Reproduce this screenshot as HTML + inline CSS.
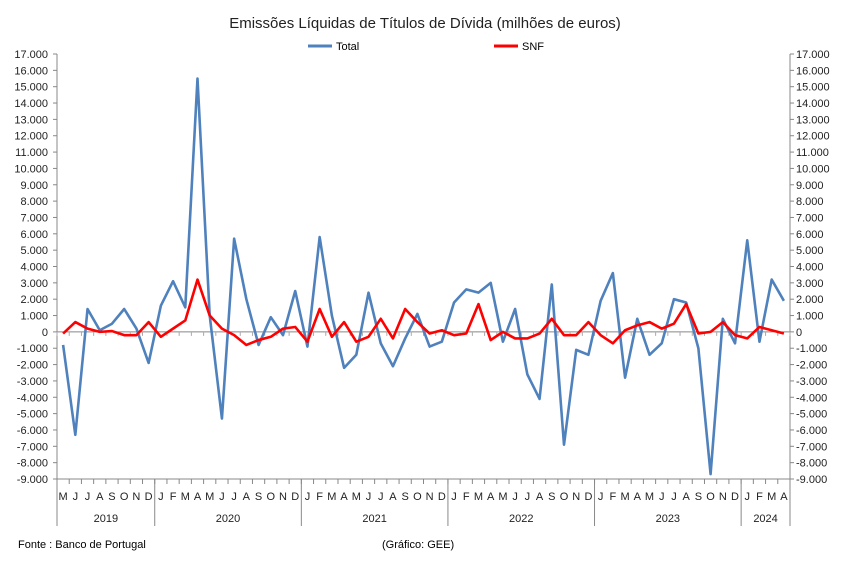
<!DOCTYPE html>
<html><head><meta charset="utf-8"><style>
body{margin:0;background:#fff;font-family:"Liberation Sans",sans-serif}
svg text{font-family:"Liberation Sans",sans-serif}
</style></head><body>
<svg id="chart" width="850" height="559" viewBox="0 0 850 559" xmlns="http://www.w3.org/2000/svg">
<text x="425" y="28" text-anchor="middle" font-size="15" fill="#222">Emissões Líquidas de Títulos de Dívida (milhões de euros)</text>
<g>
<line x1="308" y1="46" x2="332" y2="46" stroke="#4f81bd" stroke-width="3"/>
<text x="336" y="50" font-size="11">Total</text>
<line x1="494" y1="46" x2="518" y2="46" stroke="#ff0000" stroke-width="3"/>
<text x="522" y="50" font-size="11">SNF</text>
</g>
<g id="axes"></g>
<g id="series"></g>
<text x="18" y="548" font-size="11">Fonte : Banco de Portugal</text>
<text x="382" y="548" font-size="11">(Gráfico: GEE)</text>
</svg>
<script>
const months=["M","J","J","A","S","O","N","D","J","F","M","A","M","J","J","A","S","O","N","D","J","F","M","A","M","J","J","A","S","O","N","D","J","F","M","A","M","J","J","A","S","O","N","D","J","F","M","A","M","J","J","A","S","O","N","D","J","F","M","A"];
const years=["2019","2020","2021","2022","2023","2024"];
const yearCounts=[8,12,12,12,12,4];
const totalValues=[-0.8,-6.3,1.4,0.1,0.5,1.4,0.2,-1.9,1.6,3.1,1.5,15.5,1.0,-5.3,5.7,2.0,-0.8,0.9,-0.2,2.5,-0.9,5.8,1.0,-2.2,-1.4,2.4,-0.7,-2.1,-0.4,1.1,-0.9,-0.6,1.8,2.6,2.4,3.0,-0.6,1.4,-2.6,-4.1,2.9,-6.9,-1.1,-1.4,1.9,3.6,-2.8,0.8,-1.4,-0.7,2.0,1.8,-1.0,-8.7,0.8,-0.7,5.6,-0.6,3.2,1.9];
const snfValues=[-0.1,0.6,0.2,0.0,0.05,-0.2,-0.2,0.6,-0.3,0.2,0.7,3.2,1.0,0.2,-0.2,-0.8,-0.5,-0.3,0.2,0.3,-0.6,1.4,-0.3,0.6,-0.6,-0.3,0.8,-0.4,1.4,0.6,-0.1,0.1,-0.2,-0.1,1.7,-0.5,0.0,-0.4,-0.4,-0.1,0.8,-0.2,-0.2,0.6,-0.2,-0.7,0.1,0.4,0.6,0.2,0.5,1.7,-0.1,0.0,0.6,-0.2,-0.4,0.3,0.1,-0.1];
const yTicks=[17,16,15,14,13,12,11,10,9,8,7,6,5,4,3,2,1,0,-1,-2,-3,-4,-5,-6,-7,-8,-9];

const NS="http://www.w3.org/2000/svg";
const L=57,R=790,T=54,B=479,yMin=-9,yMax=17;
const n=months.length, step=(R-L)/n;
const x=i=>L+step*(i+0.5);
const y=v=>T+(yMax-v)/(yMax-yMin)*(B-T);
function mk(tag,attrs,parent){const e=document.createElementNS(NS,tag);for(const k in attrs)e.setAttribute(k,attrs[k]);parent.appendChild(e);return e;}
const ax=document.getElementById('axes');
const fmt=v=>v===0?"0":(v<0?"-":"")+Math.abs(v)+".000";
let a=mk('line',{x1:L,y1:T,x2:L,y2:B,stroke:'#888'},ax);

a=mk('line',{x1:R,y1:T,x2:R,y2:B,stroke:'#888'},ax);

yTicks.forEach(v=>{
  mk('line',{x1:L-4,y1:y(v),x2:L,y2:y(v),stroke:'#888'},ax);
  mk('line',{x1:R,y1:y(v),x2:R+4,y2:y(v),stroke:'#888'},ax);
  let t=mk('text',{x:L-9,y:y(v)+4,'text-anchor':'end','font-size':11,fill:'#222'},ax);t.textContent=fmt(v);
  
  t=mk('text',{x:R+6,y:y(v)+4,'font-size':11,fill:'#222'},ax);t.textContent=fmt(v);
  
});
a=mk('line',{x1:L,y1:y(0),x2:R,y2:y(0),stroke:'#888'},ax);

a=mk('line',{x1:L,y1:B,x2:R,y2:B,stroke:'#888'},ax);

for(let i=0;i<=n;i++){mk('line',{x1:L+step*i,y1:y(0),x2:L+step*i,y2:y(0)+4,stroke:'#aaa'},ax);mk('line',{x1:L+step*i,y1:B,x2:L+step*i,y2:B+5,stroke:'#888'},ax);}
months.forEach((m,i)=>{const t=mk('text',{x:x(i),y:500,'text-anchor':'middle','font-size':11,fill:'#222'},ax);t.textContent=m;
});
let c=0;
years.forEach((yr,k)=>{
  const s=L+step*c,e=L+step*(c+yearCounts[k]);
  mk('line',{x1:s,y1:B,x2:s,y2:526,stroke:'#888'},ax);
  const t=mk('text',{x:(s+e)/2,y:522,'text-anchor':'middle','font-size':11,fill:'#222'},ax);t.textContent=yr;
  
  c+=yearCounts[k];
});
mk('line',{x1:R,y1:B,x2:R,y2:526,stroke:'#888'},ax);
const sg=document.getElementById('series');
function line(vals,color,name){
  const p=mk('polyline',{points:vals.map((v,i)=>x(i)+','+y(v)).join(' '),fill:'none',stroke:color,'stroke-width':2.6,'stroke-linejoin':'round'},sg);
  
  
}
line(totalValues,'#4f81bd','total-line');
line(snfValues,'#ff0000','snf-line');
</script>
</body></html>
